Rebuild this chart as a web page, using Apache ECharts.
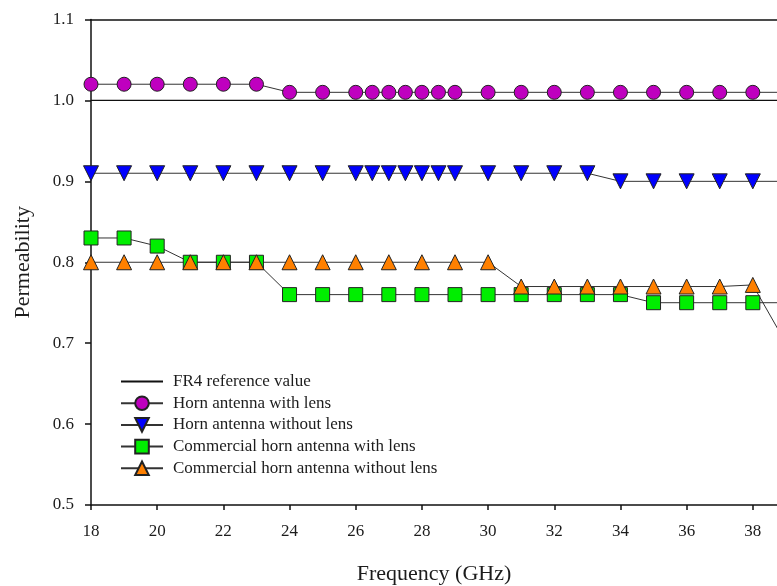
<!DOCTYPE html>
<html>
<head>
<meta charset="utf-8">
<title>Permeability vs Frequency</title>
<script src="https://cdn.jsdelivr.net/npm/echarts@6/dist/echarts.min.js"></script>
<style>
  html, body { margin: 0; padding: 0; background: #ffffff; }
  #chart { width: 777px; height: 586px; }
</style>
</head>
<body>
<div id="chart"></div>
<script>
// Measurement frequencies (GHz)
var freqFine = [18, 19, 20, 21, 22, 23, 24, 25, 26, 26.5, 27, 27.5, 28, 28.5, 29, 30, 31, 32, 33, 34, 35, 36, 37, 38, 39];
var freqCoarse = [18, 19, 20, 21, 22, 23, 24, 25, 26, 27, 28, 29, 30, 31, 32, 33, 34, 35, 36, 37, 38, 39];

// Permeability values
var hornWithLens = [1.02, 1.02, 1.02, 1.02, 1.02, 1.02, 1.01, 1.01, 1.01, 1.01, 1.01, 1.01, 1.01, 1.01, 1.01, 1.01, 1.01, 1.01, 1.01, 1.01, 1.01, 1.01, 1.01, 1.01, 1.01];
var hornWithoutLens = [0.91, 0.91, 0.91, 0.91, 0.91, 0.91, 0.91, 0.91, 0.91, 0.91, 0.91, 0.91, 0.91, 0.91, 0.91, 0.91, 0.91, 0.91, 0.91, 0.90, 0.90, 0.90, 0.90, 0.90, 0.90];
var commercialWithLens = [0.83, 0.83, 0.82, 0.80, 0.80, 0.80, 0.76, 0.76, 0.76, 0.76, 0.76, 0.76, 0.76, 0.76, 0.76, 0.76, 0.76, 0.75, 0.75, 0.75, 0.75, 0.75];
var commercialWithoutLens = [0.80, 0.80, 0.80, 0.80, 0.80, 0.80, 0.80, 0.80, 0.80, 0.80, 0.80, 0.80, 0.80, 0.77, 0.77, 0.77, 0.77, 0.77, 0.77, 0.77, 0.772, 0.70];

// FR4 reference permeability across the swept band
var fr4Freq = [18, 40];
var fr4Value = [1.0, 1.0];

var seriesNames = [
  'FR4 reference value',
  'Horn antenna with lens',
  'Horn antenna without lens',
  'Commercial horn antenna with lens',
  'Commercial horn antenna without lens'
];

var yTicks = [0.5, 0.6, 0.7, 0.8, 0.9, 1.0, 1.1];
var xTicks = [18, 20, 22, 24, 26, 28, 30, 32, 34, 36, 38, 40];

function pairs(xs, ys) {
  return xs.map(function (x, i) { return [x, ys[i]]; });
}

var FONT = '"Liberation Serif", "Times New Roman", serif';
var INK = '#1c1c1c';

function markerSeries(name, xs, ys, symbol, color) {
  return {
    name: name,
    type: 'line',
    data: pairs(xs, ys),
    symbol: symbol,
    symbolSize: symbol === 'triangle' ? 15 : 14,
    symbolRotate: 0,
    lineStyle: { color: '#333333', width: 1 },
    itemStyle: { color: color, borderColor: '#222222', borderWidth: 1 },
    emphasis: { disabled: true },
    animation: false,
    z: 3
  };
}

var chart = echarts.init(document.getElementById('chart'), null, { renderer: 'canvas' });

var withoutLensTri = markerSeries(seriesNames[2], freqFine, hornWithoutLens, 'triangle', '#0000ff');
withoutLensTri.symbolRotate = 180;

chart.setOption({
  backgroundColor: '#ffffff',
  animation: false,
  // the plotting frame runs on past the right edge of the page
  grid: { left: 91, top: 19.5, right: -42, bottom: 81, outerBoundsMode: 'none', containLabel: false },
  legend: {
    orient: 'vertical',
    left: 115,
    top: 368,
    itemWidth: 42,
    itemHeight: 17,
    itemGap: 4.7,
    data: [
      { name: seriesNames[0], itemStyle: { opacity: 0 } },
      seriesNames[1], seriesNames[2], seriesNames[3], seriesNames[4]
    ],
    textStyle: { fontFamily: FONT, fontSize: 17, color: INK, padding: [0, 0, 0, 5] },
    selectedMode: false
  },
  xAxis: [{
    type: 'value',
    min: 18,
    max: 40,
    interval: 2,
    axisLine: { show: true, onZero: false, lineStyle: { color: '#111', width: 1.5 } },
    axisTick: { show: true, inside: false, length: 5, lineStyle: { color: '#111', width: 1.5 } },
    axisLabel: {
      margin: 18, fontFamily: FONT, fontSize: 17, color: INK,
      formatter: function (v) { return xTicks.indexOf(v) >= 0 ? String(v) : ''; }
    },
    splitLine: { show: false }
  }, {
    type: 'value',
    position: 'top',
    min: 18,
    max: 40,
    axisLine: { show: true, onZero: false, lineStyle: { color: '#111', width: 1.5 } },
    axisTick: { show: false },
    axisLabel: { show: false },
    splitLine: { show: false }
  }],
  yAxis: {
    type: 'value',
    min: 0.5,
    max: 1.1,
    interval: 0.1,
    name: 'Permeability',
    nameLocation: 'middle',
    nameGap: 57,
    nameTextStyle: { fontFamily: FONT, fontSize: 22, color: INK },
    axisLine: { show: true, onZero: false, lineStyle: { color: '#111', width: 1.5 } },
    axisTick: { show: true, inside: false, length: 6, lineStyle: { color: '#111', width: 1.5 } },
    axisLabel: {
      margin: 17, fontFamily: FONT, fontSize: 17, color: INK,
      formatter: function (v) {
        var r = Math.round(v * 10) / 10;
        return yTicks.indexOf(r) >= 0 ? r.toFixed(1) : '';
      }
    },
    splitLine: { show: false }
  },
  graphic: [{
    type: 'text',
    x: 434,
    y: 574,
    style: {
      text: 'Frequency (GHz)',
      align: 'center', verticalAlign: 'middle',
      font: '22px ' + FONT,
      fill: INK
    }
  }],
  series: [
    {
      name: seriesNames[0],
      type: 'line',
      data: pairs(fr4Freq, fr4Value),
      symbol: 'none',
      lineStyle: { color: '#111111', width: 1.2 },
      itemStyle: { color: '#111111' },
      emphasis: { disabled: true },
      animation: false,
      z: 2
    },
    markerSeries(seriesNames[1], freqFine, hornWithLens, 'circle', '#bf00bf'),
    withoutLensTri,
    markerSeries(seriesNames[3], freqCoarse, commercialWithLens, 'rect', '#00ee00'),
    markerSeries(seriesNames[4], freqCoarse, commercialWithoutLens, 'triangle', '#ff8000')
  ]
});
</script>
</body>
</html>
